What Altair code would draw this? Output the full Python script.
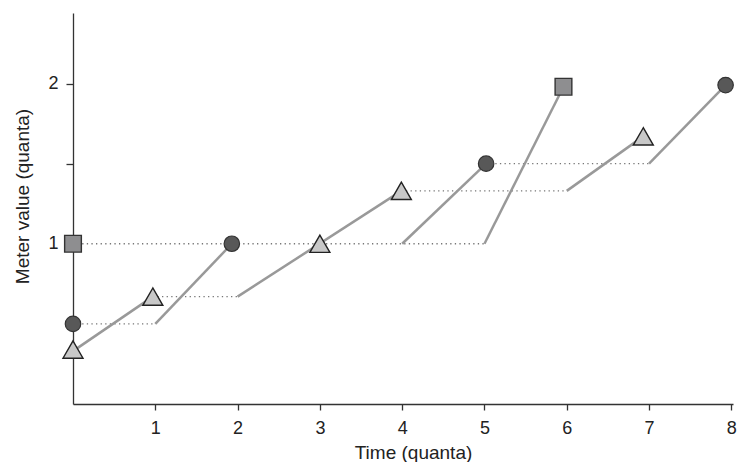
import altair as alt
import pandas as pd

# markers
tri_x = [0, 0.97, 3.0, 3.99, 6.93]
tri_y = [0.34, 0.67, 1.0, 1.33, 1.67]
circ_x = [0, 1.93, 5.02, 7.93]
circ_y = [0.5, 1.0, 1.5, 1.99]
sq_x = [0, 5.96]
sq_y = [1.0, 1.98]

# solid segments
solid_x = [0, 2, 6, 1, 4, 7, 5]
solid_y = [0.33, 0.67, 1.33, 0.5, 1.0, 1.5, 1.0]
solid_x2 = [0.97, 3.99, 6.93, 1.93, 5.02, 7.93, 5.96]
solid_y2 = [0.67, 1.33, 1.67, 1.0, 1.5, 1.99, 1.98]

# dotted (paused) segments
dot_x = [0, 0.97, 0, 3.99, 5.02]
dot_x2 = [1, 2, 5, 6, 7]
dot_y = [0.5, 0.67, 1.0, 1.33, 1.5]

x_ticks = [1, 2, 3, 4, 5, 6, 7, 8]
y_ticks = [0.5, 1, 1.5, 2]

FONT = "Liberation Sans"
TXT = "#222222"

xscale = alt.Scale(domain=[0, 8.02], nice=False, zero=False)
yscale = alt.Scale(domain=[0, 2.44], nice=False, zero=False)

x_axis = alt.Axis(
    title="Time (quanta)", values=x_ticks, grid=False, format="d",
    tickSize=6, tickColor="#333", tickWidth=1.3,
    domainColor="#333", domainWidth=1.3,
    labelFont=FONT, labelFontSize=18, labelColor=TXT, labelPadding=9,
    titleFont=FONT, titleFontSize=19, titleFontWeight="normal", titleColor=TXT,
    titleX=340, titleY=54, titleBaseline="alphabetic", titleAlign="center",
)
y_axis = alt.Axis(
    title="Meter value (quanta)", values=y_ticks, grid=False, format="~g",
    labelExpr="datum.value == 1 || datum.value == 2 ? datum.label : ''",
    tickSize=7, tickColor="#333", tickWidth=1.3,
    domainColor="#333", domainWidth=1.3,
    labelFont=FONT, labelFontSize=18, labelColor=TXT, labelPadding=8,
    titleFont=FONT, titleFontSize=19, titleFontWeight="normal", titleColor=TXT,
    titleX=-51, titleY=183, titleBaseline="middle", titleAlign="center", titleAngle=-90,
)

dots = pd.DataFrame({"x": dot_x, "x2": dot_x2, "y": dot_y})
solid = pd.DataFrame({"x": solid_x, "y": solid_y, "x2": solid_x2, "y2": solid_y2})
tri = pd.DataFrame({"x": tri_x, "y": tri_y})
circ = pd.DataFrame({"x": circ_x, "y": circ_y})
sq = pd.DataFrame({"x": sq_x, "y": sq_y})

dot_layer = alt.Chart(dots).mark_rule(
    color="#777777", strokeWidth=1.3, strokeDash=[1.3, 3.3]
).encode(
    x=alt.X("x:Q", scale=xscale, axis=x_axis),
    x2="x2:Q",
    y=alt.Y("y:Q", scale=yscale, axis=y_axis),
)

solid_layer = alt.Chart(solid).mark_rule(
    color="#999999", strokeWidth=2.5
).encode(x="x:Q", y="y:Q", x2="x2:Q", y2="y2:Q")

tri_layer = alt.Chart(tri).mark_point(
    shape="triangle-up", size=400, filled=True, fill="#c8c8c8",
    stroke="#222222", strokeWidth=1.4, opacity=1
).encode(x="x:Q", y="y:Q")

circ_layer = alt.Chart(circ).mark_point(
    shape="circle", size=240, filled=True, fill="#585858",
    stroke="#333333", strokeWidth=1.2, opacity=1
).encode(x="x:Q", y="y:Q")

sq_layer = alt.Chart(sq).mark_point(
    shape="square", size=280, filled=True, fill="#8e8e90",
    stroke="#333333", strokeWidth=1.4, opacity=1
).encode(x="x:Q", y="y:Q")

chart = alt.layer(dot_layer, solid_layer, tri_layer, circ_layer, sq_layer).properties(
    width=660, height=391,
    autosize=alt.AutoSizeParams(type="none"),
    padding={"left": 65, "top": 5, "right": 5, "bottom": 58},
    background="white",
).configure_view(stroke=None)

chart.save("out.html", embed_options={"renderer": "svg", "actions": False})
